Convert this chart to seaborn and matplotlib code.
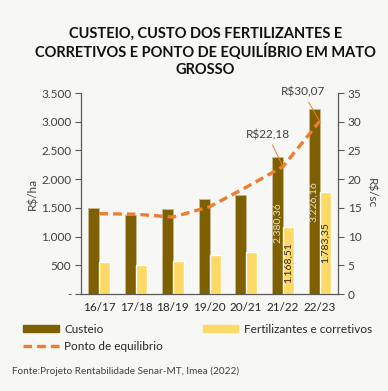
import numpy as np
import pandas as pd
import seaborn as sns
import matplotlib.pyplot as plt
from matplotlib.patches import Patch
from matplotlib.lines import Line2D

safras = ["16/17", "17/18", "18/19", "19/20", "20/21", "21/22", "22/23"]
custeio = [1490, 1370, 1475, 1650, 1730, 2380.36, 3226.16]
fertilizantes = [555, 500, 570, 675, 725, 1168.51, 1783.35]
ponto_equilibrio = [14.0, 13.9, 13.4, 15.2, 18.6, 22.18, 30.07]
left_ticks = [0, 500, 1000, 1500, 2000, 2500, 3000, 3500]
left_labels = ["-", "500", "1.000", "1.500", "2.000", "2.500", "3.000", "3.500"]

bg = "#F7F7F5"
c_custeio = "#7F6000"
c_fert = "#FFD966"
c_linha = "#ED7D31"
c_texto = "#404040"

sns.set_style("white")
plt.rcParams["font.family"] = ["Lato", "DejaVu Sans"]


def br(v):
    return f"{v:,.2f}".replace(",", "X").replace(".", ",").replace("X", ".")


df = pd.DataFrame({
    "safra": safras * 2,
    "valor": custeio + fertilizantes,
    "serie": ["Custeio"] * 7 + ["Fertilizantes e corretivos"] * 7,
})

fig = plt.figure(figsize=(3.88, 3.91), dpi=100, facecolor=bg)
ax = fig.add_axes([0.209, 0.248, 0.662, 0.514])
ax.set_facecolor(bg)

sns.barplot(data=df, x="safra", y="valor", hue="serie", order=safras,
            palette=[c_custeio, c_fert], width=0.6, gap=0, saturation=1,
            legend=False, ax=ax)

# contorno claro das barras de custeio
for p in ax.containers[0]:
    p.set_edgecolor("#C8BB95")
    p.set_linewidth(0.6)

ax.set_ylim(0, 3500)
ax.set_yticks(left_ticks)
ax.set_yticklabels(left_labels)
ax.set_xlim(-0.5, len(safras) - 0.5)
ax.set_xlabel("")
ax.set_ylabel("R$/ha", fontsize=8.5, color=c_texto, labelpad=2)
ax.set_xticks(np.arange(len(safras)))
ax.set_xticklabels(safras)
ax.set_xticks(np.arange(len(safras) + 1) - 0.5, minor=True)
ax.tick_params(axis="x", which="major", length=0, labelsize=8.5, colors="#262626", pad=6)
ax.tick_params(axis="x", which="minor", length=4, color="#595959", direction="out")
ax.tick_params(axis="y", length=4, direction="out", color="#595959", labelsize=8.5,
               labelcolor=c_texto, pad=3, left=True)
for s in ["top", "right"]:
    ax.spines[s].set_visible(False)
for s in ["left", "bottom"]:
    ax.spines[s].set_color("#595959")
    ax.spines[s].set_linewidth(0.9)

# rótulos dentro das barras
for i in [5, 6]:
    ax.text(i - 0.15, custeio[i] / 2 + (60 if i == 5 else 0), br(custeio[i]),
            rotation=90, ha="center", va="center", fontsize=7.5, color="#E0E0E0")
    ax.text(i + 0.15, fertilizantes[i] / 2 + (-30 if i == 5 else 0), br(fertilizantes[i]),
            rotation=90, ha="center", va="center", fontsize=7.5, color="#262626")

ax2 = ax.twinx()
ax2.set_facecolor("none")
sns.lineplot(x=np.arange(len(safras)), y=ponto_equilibrio, ax=ax2, color=c_linha,
             linewidth=2.4, dashes=False, legend=False)
ax2.lines[0].set_dashes((2.6, 1.5))
ax2.set_ylim(0, 35)
ax2.set_yticks(range(0, 36, 5))
ax2.set_ylabel("R$/sc", fontsize=8.5, color=c_texto, rotation=-90, labelpad=11)
ax2.tick_params(axis="y", length=4, direction="out", color="#595959", labelsize=8.5,
                labelcolor=c_texto, pad=3, right=True)
for s in ["top", "left", "bottom"]:
    ax2.spines[s].set_visible(False)
ax2.spines["right"].set_color("#595959")
ax2.spines["right"].set_linewidth(0.9)

for i, off in [(5, (-11, 23)), (6, (-12, 21))]:
    ax2.annotate(f"R${ponto_equilibrio[i]:.2f}".replace(".", ","),
                 xy=(i, ponto_equilibrio[i]), xytext=off, textcoords="offset points",
                 ha="center", va="center", fontsize=8.5, color=c_texto,
                 arrowprops=dict(arrowstyle="-", color=c_linha, lw=0.7,
                                 shrinkA=1, shrinkB=0))

fig.text(0.53, 0.868, "CUSTEIO, CUSTO DOS FERTILIZANTES E\nCORRETIVOS E PONTO DE EQUILÍBRIO EM MATO\nGROSSO",
         ha="center", va="center", fontsize=10.5, fontweight="bold", color="#111111",
         linespacing=1.25)

handles = [Patch(color=c_custeio, label="Custeio"),
           Line2D([], [], color=c_linha, lw=2.4, dashes=(2.6, 1.5), label="Ponto de equilibrio"),
           Patch(color=c_fert, label="Fertilizantes e corretivos")]
fig.legend(handles=handles, ncol=2, loc="upper left", bbox_to_anchor=(0.06, 0.172),
           frameon=False, fontsize=8.5, handlelength=3.0, handleheight=0.55,
           columnspacing=3.4, handletextpad=0.45, labelspacing=0.55,
           labelcolor="#262626", borderaxespad=0, borderpad=0)

fig.text(0.03, 0.05, "Fonte:Projeto Rentabilidade Senar-MT, Imea (2022)",
         fontsize=7.2, color=c_texto, ha="left", va="center")

fig.savefig("out.png", dpi=100, facecolor=bg)
